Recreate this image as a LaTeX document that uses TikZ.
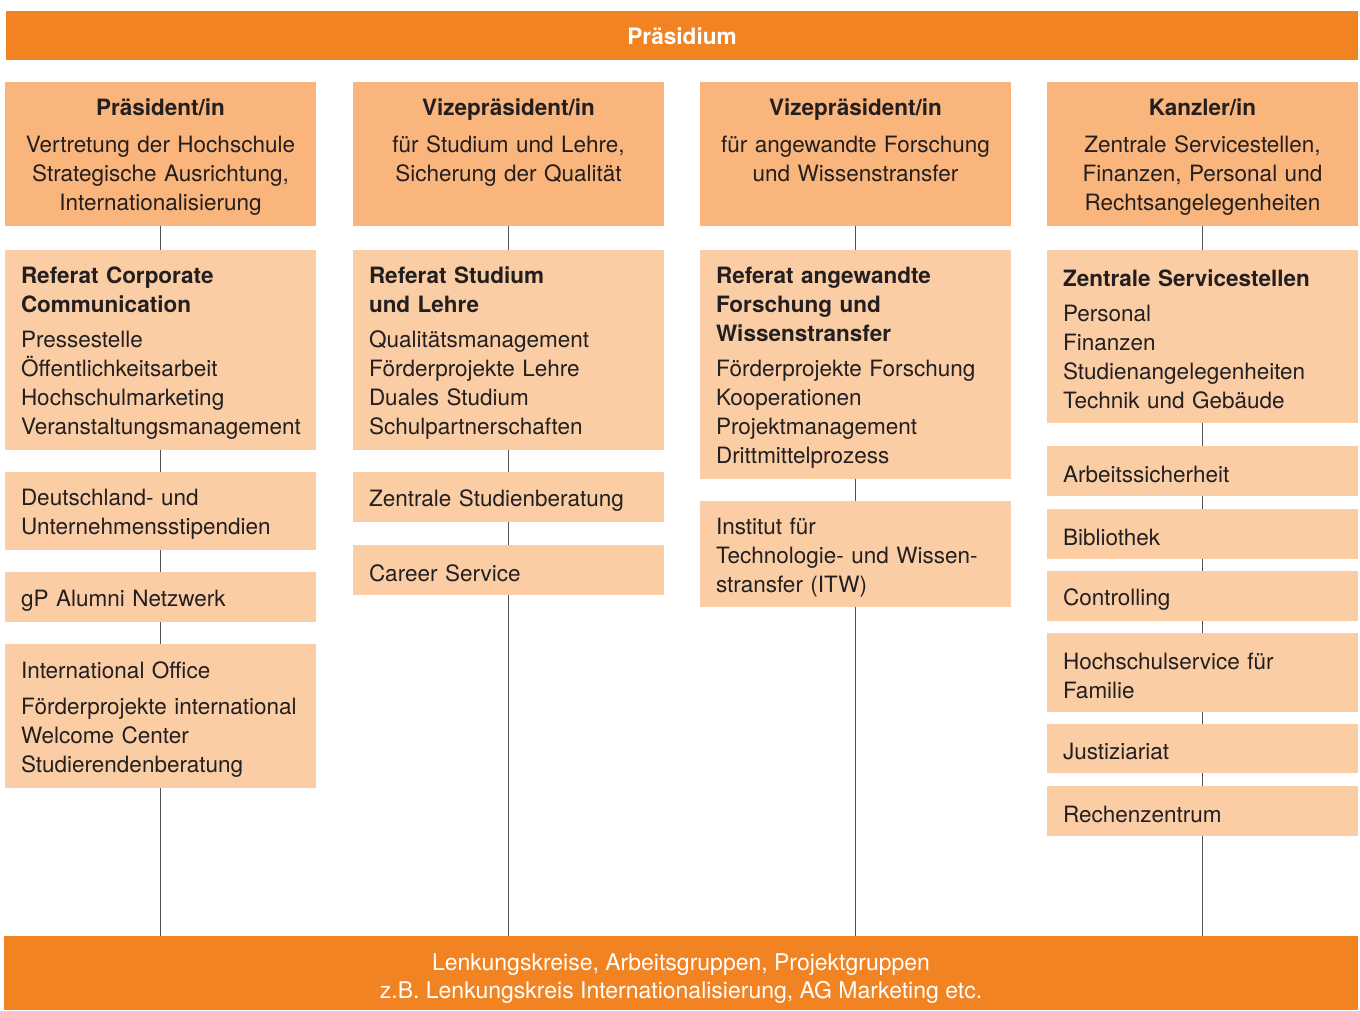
\documentclass[tikz,border=0pt]{standalone}
\usepackage{fontspec}
\setmainfont{TeX Gyre Heros}
\definecolor{barc}{HTML}{F28322}
\definecolor{headc}{HTML}{F9B57B}
\definecolor{subc}{HTML}{FACDA4}
\definecolor{inkc}{HTML}{231F20}
\definecolor{connc}{HTML}{505050}
\newcommand{\lastdp}{\rule[-5pt]{0pt}{5pt}}
\begin{document}
\begin{tikzpicture}[x=1pt,y=-1pt,
 every node/.style={inner sep=0pt, outer sep=0pt},
 barbox/.style={fill=barc, text=white, anchor=north west, align=center},
 headbox/.style={fill=headc, text=inkc, anchor=north west, minimum width=311pt, minimum height=144pt, text width=299pt, align=center, font=\fontsize{22.5}{28.7}\selectfont, execute at begin node={\rule{0pt}{23pt}}},
 subbox/.style={fill=subc, text=inkc, anchor=north west, minimum width=311pt, text width=279pt, align=left, font=\fontsize{22.5}{29}\selectfont, execute at begin node={\rule{0pt}{23pt}}},
 conn/.style={draw=connc, line width=1.4pt}
]
\useasboundingbox (0,0) rectangle (1360,1010);

% bars
\node[barbox, minimum width=1352pt, minimum height=49pt, font=\fontsize{22.6}{28}\selectfont] (top) at (6,11) {\rule{0pt}{19pt}\textbf{Präsidium}};
\node[barbox, minimum width=1354pt, minimum height=74pt, font=\fontsize{23}{28}\selectfont] (bot) at (4,936)
  {\rule{0pt}{28pt}Lenkungskreise, Arbeitsgruppen, Projektgruppen\\z.B. Lenkungskreis Internationalisierung, AG Marketing etc.};

% column 1
\node[headbox] (h1) at (5,82) {\textbf{Präsident/in}\\[8pt]Vertretung der Hochschule\\Strategische Ausrichtung,\\Internationalisierung\lastdp};
\node[subbox, minimum height=200pt] (r1) at (5,250) {\textbf{Referat Corporate}\\\textbf{Communication}\\[6pt]Pressestelle\\Öffentlichkeitsarbeit\\Hochschulmarketing\\Veranstaltungsmanagement};
\node[subbox, minimum height=78pt] (d1) at (5,472) {Deutschland- und\\Unternehmensstipendien};
\node[subbox, minimum height=50pt] (a1) at (5,572) {gP Alumni Netzwerk};
\node[subbox, minimum height=144pt] (i1) at (5,644) {International Office\\[7pt]Förderprojekte international\\Welcome Center\\Studierendenberatung};

% column 2
\node[headbox] (h2) at (353,82) {\textbf{Vizepräsident/in}\\[8pt]für Studium und Lehre,\\Sicherung der Qualität\\\lastdp};
\node[subbox, minimum height=200pt] (r2) at (353,250) {\textbf{Referat Studium}\\\textbf{und Lehre}\\[6pt]Qualitätsmanagement\\Förderprojekte Lehre\\Duales Studium\\Schulpartnerschaften};
\node[subbox, minimum height=50pt] (z2) at (353,472) {Zentrale Studienberatung};
\node[subbox, minimum height=50pt] (c2) at (353,545) {Career Service};

% column 3
\node[headbox] (h3) at (700,82) {\textbf{Vizepräsident/in}\\[8pt]für angewandte Forschung\\und Wissenstransfer\\\lastdp};
\node[subbox, minimum height=229pt] (r3) at (700,250) {\textbf{Referat angewandte}\\\textbf{Forschung und}\\\textbf{Wissenstransfer}\\[6pt]Förderprojekte Forschung\\Kooperationen\\Projektmanagement\\Drittmittelprozess};
\node[subbox, minimum height=106pt] (t3) at (700,501) {Institut für\\Technologie- und Wissen-\\stransfer (ITW)};

% column 4
\node[headbox] (h4) at (1047,82) {\textbf{Kanzler/in}\\[8pt]Zentrale Servicestellen,\\Finanzen, Personal und\\Rechtsangelegenheiten\lastdp};
\node[subbox, minimum height=173pt] (r4) at (1047,250) {\textbf{Zentrale Servicestellen}\\[6pt]Personal\\Finanzen\\Studienangelegenheiten\\Technik und Gebäude};
\node[subbox, minimum height=50pt] (s1) at (1047,446) {Arbeitssicherheit};
\node[subbox, minimum height=50pt] (s2) at (1047,509) {Bibliothek};
\node[subbox, minimum height=50pt] (s3) at (1047,571) {Controlling};
\node[subbox, minimum height=79pt] (s4) at (1047,633) {Hochschulservice für\\Familie};
\node[subbox, minimum height=49pt] (s5) at (1047,724) {Justiziariat};
\node[subbox, minimum height=50pt] (s6) at (1047,786) {Rechenzentrum};

% connectors
\draw[conn] (h1.south) -- (r1.north);
\draw[conn] (r1.south) -- (d1.north);
\draw[conn] (d1.south) -- (a1.north);
\draw[conn] (a1.south) -- (i1.north);
\draw[conn] (i1.south) -- (i1.south |- bot.north);

\draw[conn] (h2.south) -- (r2.north);
\draw[conn] (r2.south) -- (z2.north);
\draw[conn] (z2.south) -- (c2.north);
\draw[conn] (c2.south) -- (c2.south |- bot.north);

\draw[conn] (h3.south) -- (r3.north);
\draw[conn] (r3.south) -- (t3.north);
\draw[conn] (t3.south) -- (t3.south |- bot.north);

\draw[conn] (h4.south) -- (r4.north);
\draw[conn] (r4.south) -- (s1.north);
\draw[conn] (s1.south) -- (s2.north);
\draw[conn] (s2.south) -- (s3.north);
\draw[conn] (s3.south) -- (s4.north);
\draw[conn] (s4.south) -- (s5.north);
\draw[conn] (s5.south) -- (s6.north);
\draw[conn] (s6.south) -- (s6.south |- bot.north);
\end{tikzpicture}
\end{document}
